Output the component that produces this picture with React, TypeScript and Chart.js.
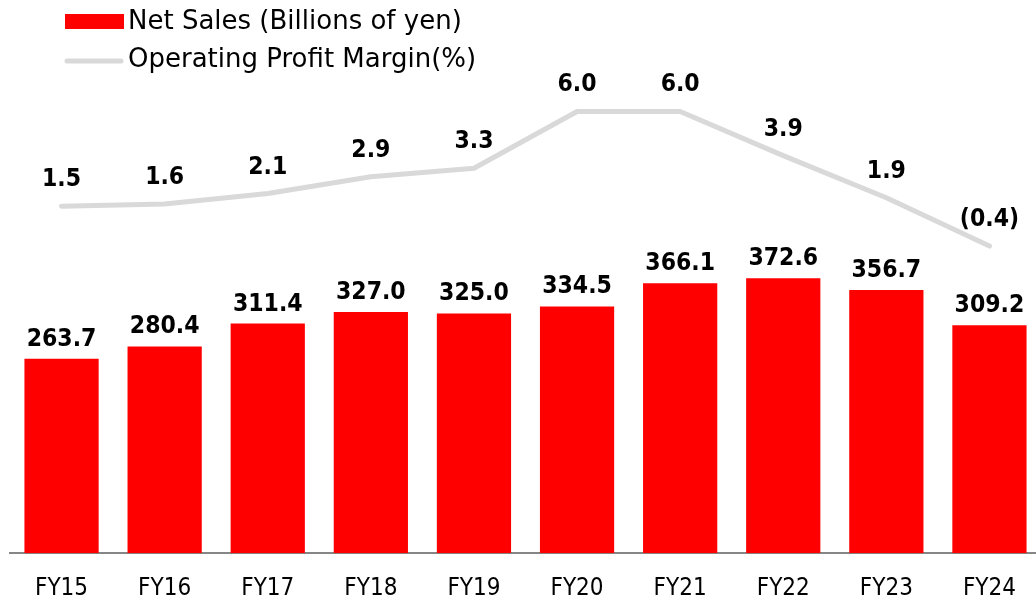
import React, { useEffect, useRef } from "react";
import { Chart, registerables } from "chart.js";

Chart.register(...registerables);

const categories = ["FY15", "FY16", "FY17", "FY18", "FY19", "FY20", "FY21", "FY22", "FY23", "FY24"];
const netSales = [263.7, 280.4, 311.4, 327.0, 325.0, 334.5, 366.1, 372.6, 356.7, 309.2];
const opMargin = [1.5, 1.6, 2.1, 2.9, 3.3, 6.0, 6.0, 3.9, 1.9, -0.4];
const seriesNames = ["Net Sales (Billions of yen)", "Operating Profit Margin(%)"];

const FONT = "'DejaVu Sans Condensed', 'DejaVu Sans', sans-serif";
const LEGEND_FONT = "'DejaVu Sans', sans-serif";
const BAR_COLOR = "#ff0000";
const LINE_COLOR = "#d9d9d9";

const fmtMargin = (v: number) => (v < 0 ? `(${Math.abs(v).toFixed(1)})` : v.toFixed(1));

const valueLabels = {
  id: "valueLabels",
  afterDatasetsDraw(chart: any) {
    const ctx = chart.ctx;
    ctx.save();
    ctx.fillStyle = "#000";
    ctx.textAlign = "center";
    ctx.textBaseline = "alphabetic";
    ctx.font = `bold 24.5px ${FONT}`;
    chart.getDatasetMeta(0).data.forEach((el: any, i: number) => {
      ctx.fillText(netSales[i].toFixed(1), el.x, el.y - 13);
    });
    chart.getDatasetMeta(1).data.forEach((el: any, i: number) => {
      ctx.fillText(fmtMargin(opMargin[i]), el.x, el.y - 20);
    });
    ctx.restore();
  },
};

const customLegend = {
  id: "customLegend",
  afterDraw(chart: any) {
    const ctx = chart.ctx;
    ctx.save();
    ctx.fillStyle = BAR_COLOR;
    ctx.fillRect(65, 14, 59, 15);
    ctx.strokeStyle = LINE_COLOR;
    ctx.lineWidth = 5;
    ctx.lineCap = "round";
    ctx.beginPath();
    ctx.moveTo(67, 61);
    ctx.lineTo(121, 61);
    ctx.stroke();
    ctx.fillStyle = "#000";
    ctx.font = `26px ${LEGEND_FONT}`;
    ctx.textAlign = "left";
    ctx.textBaseline = "alphabetic";
    ctx.fillText(seriesNames[0], 128, 29);
    ctx.fillText(seriesNames[1], 128, 67);
    ctx.restore();
  },
};

export default function App() {
  const canvasRef = useRef<HTMLCanvasElement | null>(null);

  useEffect(() => {
    if (!canvasRef.current) return;
    const chart = new Chart(canvasRef.current, {
      type: "bar",
      data: {
        labels: categories,
        datasets: [
          {
            type: "bar",
            label: seriesNames[0],
            data: netSales,
            backgroundColor: BAR_COLOR,
            barPercentage: 0.72,
            categoryPercentage: 1,
            yAxisID: "y",
            order: 2,
          } as any,
          {
            type: "line",
            label: seriesNames[1],
            data: opMargin,
            borderColor: LINE_COLOR,
            borderWidth: 5,
            pointRadius: 0,
            tension: 0,
            borderCapStyle: "round",
            borderJoinStyle: "round",
            yAxisID: "y1",
            order: 1,
          } as any,
        ],
      },
      options: {
        animation: false,
        responsive: true,
        maintainAspectRatio: false,
        layout: { padding: { left: 10, right: 0, top: 0, bottom: -24 } },
        plugins: { legend: { display: false }, tooltip: { enabled: false } },
        scales: {
          x: {
            grid: { display: false, drawTicks: false },
            border: { display: true, color: "#868686", width: 2 },
            ticks: {
              color: "#000",
              font: { family: FONT, size: 24 },
              padding: 21,
              maxRotation: 0,
              autoSkip: false,
            },
          },
          y: { display: false, min: 0, max: 750 },
          y1: { display: false, min: -15, max: 11.3, position: "right" },
        },
      },
      plugins: [valueLabels, customLegend],
    });
    return () => chart.destroy();
  }, []);

  return (
    <div style={{ position: "absolute", left: 0, top: 0, width: 1036, height: 600, overflow: "hidden", background: "#fff" }}>
      <div style={{ position: "relative", width: 1041, height: 600 }}>
        <canvas ref={canvasRef} />
      </div>
    </div>
  );
}
